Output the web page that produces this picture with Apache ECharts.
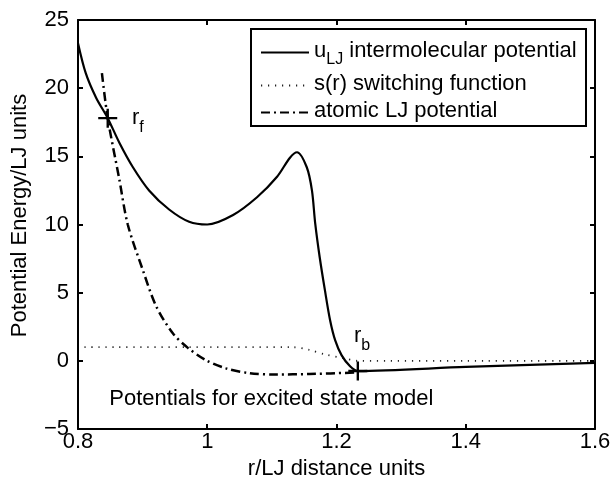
<!DOCTYPE html>
<html>
<head>
<meta charset="utf-8">
<script src="https://cdn.jsdelivr.net/npm/echarts@6/dist/echarts.min.js"></script>
<style>
html,body{margin:0;padding:0;background:#fff;}
#chart{width:613px;height:483px;}
</style>
</head>
<body>
<div id="chart"></div>
<script>
// ---- data ----
var uR = [0.800,0.812,0.828,0.846,0.864,0.885,0.910,0.941,0.972,1.000,1.040,1.077,1.108,1.128,1.139,1.154,1.162,1.167,1.174,1.182,1.190,1.198,1.208,1.221,1.233,1.400,1.600];
var uE = [23.3,21.1,19.3,17.8,16.0,14.2,12.5,11.1,10.2,10.0,10.7,12.0,13.5,14.9,15.3,14.2,12.5,10.1,7.6,5.2,3.0,1.5,0.4,-0.4,-0.75,-0.45,-0.15];

var sR = [0.810,1.000,1.133,1.158,1.184,1.210,1.233,1.400,1.600];
var sV = [1.0,1.0,1.0,0.8,0.45,0.2,0.0,0.0,0.0];

var ljR = [0.837,0.846,0.864,0.877,0.900,0.921,0.947,0.970,0.998,1.029,1.065,1.107,1.158,1.233];
var ljE = [21.1,17.8,13.3,10.0,6.7,4.0,2.0,0.95,0.05,-0.55,-0.9,-1.0,-0.97,-0.85];

var seriesNames = ['u_LJ intermolecular potential','s(r) switching function','atomic LJ potential'];
var markerR = [0.846,1.233];
var markerE = [17.8,-0.75];
var noteText = ['rf','rb','Potentials for excited state model'];
var noteR = [0.8836,1.227,0.8485];
var noteE = [18.6,2.6,-2.0];

var xTicks = {min:0.8,max:1.6,step:0.2};
var yTicks = {min:-5,max:25,step:5};

function pairs(a,b){return a.map(function(v,i){return [v,b[i]];});}

var FS = 22;
var fam = 'Liberation Sans, Arial, Helvetica, sans-serif';
var rich = {
  a:{fontSize:FS,fontFamily:fam,color:'#000',lineHeight:25,verticalAlign:'top'},
  s:{fontSize:16,fontFamily:fam,color:'#000',lineHeight:18,padding:[12,0,0,0],verticalAlign:'top'}
};
function noteFmt(t){
  if(t==='rf') return '{a|r}{s|f}';
  if(t==='rb') return '{a|r}{s|b}';
  return '{a|'+t+'}';
}

var chart = echarts.init(document.getElementById('chart'),null,{renderer:'canvas'});
var axisCommon = {
  type:'value',
  axisLine:{show:true,onZero:false,lineStyle:{color:'#000',width:2}},
  axisTick:{show:true,inside:true,length:5,lineStyle:{color:'#000',width:2}},
  splitLine:{show:false}
};
var option = {
  animation:false,
  backgroundColor:'#fff',
  textStyle:{fontFamily:fam},
  grid:{left:78,right:18,top:20,bottom:54,containLabel:false,outerBoundsMode:'none'},
  xAxis:[
    Object.assign({},axisCommon,{position:'bottom',min:xTicks.min,max:xTicks.max,interval:xTicks.step,
      axisLabel:{color:'#000',fontSize:FS,fontFamily:fam,margin:2,
        formatter:function(v){var r=Math.round(v*10)/10; return r===1?'1':r.toFixed(1);}},
      name:'r/LJ distance units',nameLocation:'middle',nameGap:29,
      nameTextStyle:{color:'#000',fontSize:FS,fontFamily:fam}}),
    Object.assign({},axisCommon,{position:'top',min:xTicks.min,max:xTicks.max,interval:xTicks.step,
      axisLabel:{show:false}})
  ],
  yAxis:[
    Object.assign({},axisCommon,{position:'left',min:yTicks.min,max:yTicks.max,interval:yTicks.step,
      axisLabel:{color:'#000',fontSize:FS,fontFamily:fam,margin:9,
        formatter:function(v){return v<0?'\u2212'+(-v):String(v);}},
      name:'Potential Energy/LJ units',nameLocation:'middle',nameGap:47,
      nameTextStyle:{color:'#000',fontSize:FS,fontFamily:fam,padding:[0,0,0,18]}}),
    Object.assign({},axisCommon,{position:'right',min:yTicks.min,max:yTicks.max,interval:yTicks.step,
      axisLabel:{show:false}})
  ],
  legend:{
    show:true,orient:'vertical',left:255,top:35,itemWidth:48,itemHeight:14,itemGap:5,
    data:seriesNames,
    itemStyle:{opacity:0},
    textStyle:{color:'#000',fontSize:FS,fontFamily:fam,rich:rich},
    formatter:function(n){
      if(n===seriesNames[0]) return '{a|u}{s|LJ}{a| intermolecular potential}';
      return '{a|'+n+'}';
    }
  },
  graphic:[{type:'rect',left:250,top:28,shape:{width:335,height:97},
    style:{fill:'#fff',stroke:'#000',lineWidth:2},z:1}],
  series:[
    {name:seriesNames[1],type:'line',data:pairs(sR,sV),symbol:'none',smooth:0.3,z:3,
      itemStyle:{color:'#000'},
      lineStyle:{color:'#222',width:1.8,type:[1.2,5.8]}},
    {name:seriesNames[2],type:'line',data:pairs(ljR,ljE),symbol:'none',smooth:0.3,z:3,
      itemStyle:{color:'#000'},
      lineStyle:{color:'#000',width:2.5,type:[9,4,2,4]}},
    {name:seriesNames[0],type:'line',data:pairs(uR,uE),symbol:'none',smooth:0.3,z:4,
      itemStyle:{color:'#000'},
      lineStyle:{color:'#000',width:2.2,type:'solid'}},
    {name:'markers',type:'scatter',data:pairs(markerR,markerE),z:5,
      symbol:'path://M7,0h2v7h7v2h-7v7h-2v-7h-7v-2h7z',symbolSize:19,
      itemStyle:{color:'#000',opacity:1}},
    {name:'notes',type:'scatter',symbolSize:0,z:5,
      itemStyle:{opacity:1},
      data:noteText.map(function(t,i){return {value:[noteR[i],noteE[i]],
        label:{show:true,position:[0,0],align:'left',verticalAlign:'top',
          color:'#000',textBorderWidth:0,
          formatter:noteFmt(t),rich:rich}};})}
  ]
};
chart.setOption(option);
</script>
</body>
</html>
